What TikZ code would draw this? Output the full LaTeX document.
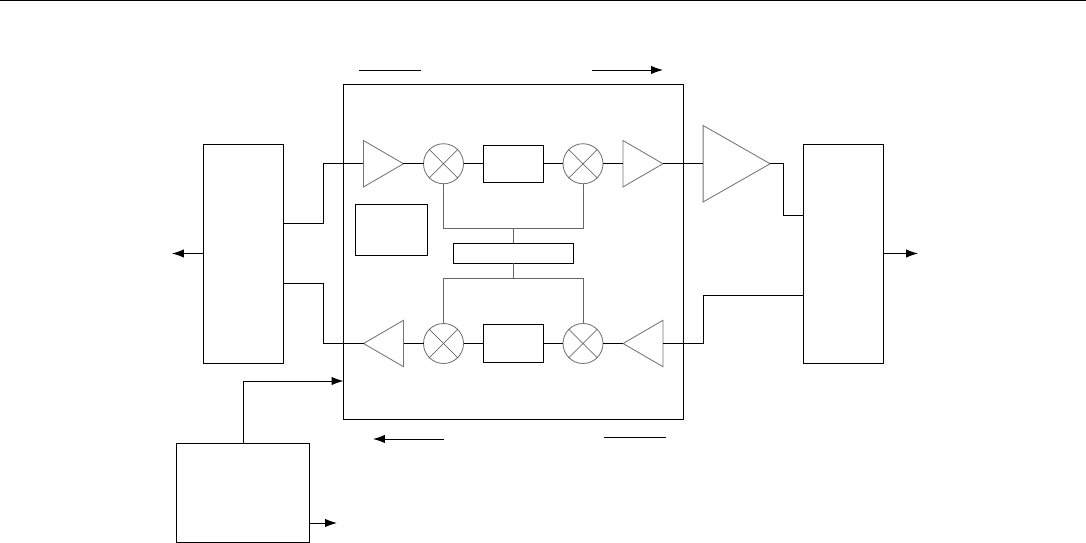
\documentclass[tikz,border=0pt]{standalone}
\usepackage{tikz}
\usetikzlibrary{shapes.geometric,arrows.meta}
\begin{document}
\begin{tikzpicture}[x=0.025cm,y=-0.025cm,line width=0.7pt,
    wire/.style={black},
    tip/.style={-{Latex[length=8.5pt,width=6pt]}},
    block/.style={draw,rectangle,inner sep=0,outer sep=0},
    amp/.style={draw=black!55,line width=0.6pt,isosceles triangle,isosceles triangle stretches,inner sep=0,outer sep=0},
    mixer/.style={draw=black!55,line width=0.6pt,circle,inner sep=0,outer sep=0,minimum size=40*0.025cm},
    lo/.style={black!60,line width=0.6pt}]
    \useasboundingbox (0,0) rectangle (1086,543);
    \coordinate (rulea) at (0,0.5);
    \coordinate (ruleb) at (1086,0.5);
    \draw[wire] (rulea) -- (ruleb);

    \node[block,minimum width=340*0.025cm,minimum height=334.5*0.025cm] (chip) at (513.5,251.75) {};
    \node[block,minimum width=80*0.025cm,minimum height=219*0.025cm] (lbox) at (243.5,253.5) {};
    \node[block,minimum width=80*0.025cm,minimum height=219*0.025cm] (rbox) at (843.5,253.5) {};
    \node[block,minimum width=133*0.025cm,minimum height=99*0.025cm] (clk) at (243,492.5) {};
    \node[block,minimum width=72*0.025cm,minimum height=51*0.025cm] (reg) at (391.5,230) {};
    \node[block,minimum width=120*0.025cm,minimum height=19.5*0.025cm] (osc) at (513.5,253.25) {};
    \node[block,minimum width=60*0.025cm,minimum height=37.5*0.025cm] (filta) at (513.5,163.75) {};
    \node[block,minimum width=60*0.025cm,minimum height=38*0.025cm] (filtb) at (513.5,343.5) {};

    \node[amp,minimum width=46.5*0.025cm,minimum height=40*0.025cm] (ampa) at (376.83,163.75) {};
    \node[amp,minimum width=46.5*0.025cm,minimum height=40*0.025cm] (ampb) at (636.33,163.75) {};
    \node[amp,minimum width=76.5*0.025cm,minimum height=67*0.025cm] (ampc) at (725.33,163.75) {};
    \node[amp,shape border rotate=180,minimum width=46.5*0.025cm,minimum height=40*0.025cm] (ampd) at (390.17,343.5) {};
    \node[amp,shape border rotate=180,minimum width=46.5*0.025cm,minimum height=40*0.025cm] (ampe) at (649.67,343.5) {};

    \node[mixer] (mixa) at (443.5,163.75) {};
    \node[mixer] (mixb) at (583,163.75) {};
    \node[mixer] (mixc) at (443.5,343.5) {};
    \node[mixer] (mixd) at (583,343.5) {};
    \foreach \m in {mixa,mixb,mixc,mixd} {
        \draw[black!70,line width=0.45pt] (\m.north east) -- (\m.south west);
        \draw[black!70,line width=0.45pt] (\m.north west) -- (\m.south east);
    }

    \draw[wire] (ampa.east) -- (mixa.west);
    \draw[wire] (mixa.east) -- (filta.west);
    \draw[wire] (filta.east) -- (mixb.west);
    \draw[wire] (mixb.east) -- (ampb.west);
    \draw[wire] (ampb.east) -- (ampc.west);
    \draw[wire] (ampd.east) -- (mixc.west);
    \draw[wire] (mixc.east) -- (filtb.west);
    \draw[wire] (filtb.east) -- (mixd.west);
    \draw[wire] (mixd.east) -- (ampe.west);

    \coordinate (lboxa) at (283.5,223);
    \coordinate (lboxb) at (283.5,283);
    \coordinate (rboxa) at (803.5,215);
    \coordinate (rboxb) at (803.5,295);
    \coordinate (elbowa) at (323,223);
    \coordinate (elbowb) at (323,283);
    \coordinate (elbowc) at (783,215);
    \coordinate (elbowd) at (703,295);
    \draw[wire] (lboxa) -- (elbowa) |- (ampa.west);
    \draw[wire] (lboxb) -- (elbowb) |- (ampd.west);
    \draw[wire] (ampc.east) -| (elbowc) -- (rboxa);
    \draw[wire] (ampe.east) -| (elbowd) -- (rboxb);

    \coordinate (louta) at (172,253.5);
    \coordinate (routa) at (918,253.5);
    \draw[wire,tip] (lbox.west) -- (louta);
    \draw[wire,tip] (rbox.east) -- (routa);

    \coordinate (chipin) at (343.5,381);
    \coordinate (clkout) at (337,523);
    \coordinate (clkside) at (309.5,523);
    \draw[wire,tip] (clk.north) |- (chipin);
    \draw[wire,tip] (clkside) -- (clkout);

    \coordinate (taila) at (443.5,228);
    \coordinate (tailb) at (583,228);
    \coordinate (tailc) at (443.5,278);
    \coordinate (taild) at (583,278);
    \coordinate (stema) at (513.5,228);
    \coordinate (stemb) at (513.5,278);
    \draw[lo] (mixa.south) -- (taila) -- (tailb) -- (mixb.south);
    \draw[lo] (mixc.north) -- (tailc) -- (taild) -- (mixd.north);
    \draw[lo] (stema) -- (osc.north);
    \draw[lo] (stemb) -- (osc.south);

    \coordinate (marka) at (359,70);
    \coordinate (markb) at (421,70);
    \coordinate (markc) at (592,70);
    \coordinate (markd) at (663,70);
    \coordinate (marke) at (444,439);
    \coordinate (markf) at (373,439);
    \coordinate (markg) at (604,437);
    \coordinate (markh) at (666,437);
    \draw[wire] (marka) -- (markb);
    \draw[wire,tip] (markc) -- (markd);
    \draw[wire,tip] (marke) -- (markf);
    \draw[wire] (markg) -- (markh);
\end{tikzpicture}
\end{document}
